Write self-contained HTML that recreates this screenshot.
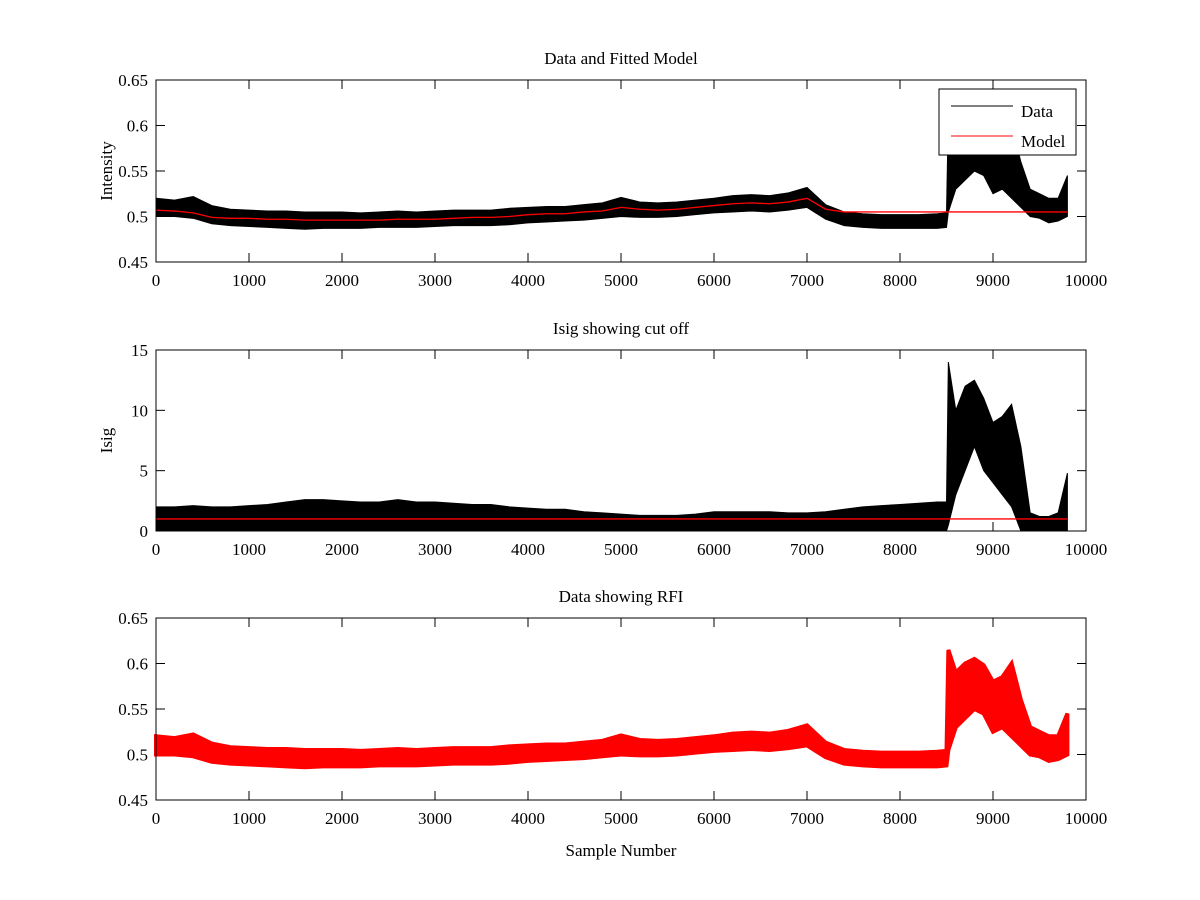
<!DOCTYPE html>
<html><head><meta charset="utf-8"><style>
body{margin:0;background:#fff}
svg{display:block}
text{font-family:"Liberation Serif",serif;font-size:17px;fill:#000}
</style></head><body>
<svg id="c" width="1200" height="900" xmlns="http://www.w3.org/2000/svg"></svg>
<script>
const xs   = [0,200,400,600,800,1000,1200,1400,1600,1800,2000,2200,2400,2600,2800,3000,3200,3400,3600,3800,4000,4200,4400,4600,4800,5000,5200,5400,5600,5800,6000,6200,6400,6600,6800,7000,7200,7400,7600,7800,8000,8200,8400,8500,8520,8600,8700,8800,8900,9000,9100,9200,9300,9400,9500,9600,9700,9800];
const hiI  = [0.520,0.518,0.522,0.512,0.508,0.507,0.506,0.506,0.505,0.505,0.505,0.504,0.505,0.506,0.505,0.506,0.507,0.507,0.507,0.509,0.510,0.511,0.511,0.513,0.515,0.521,0.516,0.515,0.516,0.518,0.520,0.523,0.524,0.523,0.526,0.532,0.513,0.505,0.503,0.502,0.502,0.502,0.503,0.504,0.615,0.590,0.600,0.605,0.598,0.580,0.585,0.600,0.560,0.530,0.525,0.520,0.520,0.545];
const loI  = [0.500,0.500,0.498,0.492,0.490,0.489,0.488,0.487,0.486,0.487,0.487,0.487,0.488,0.488,0.488,0.489,0.490,0.490,0.490,0.491,0.493,0.494,0.495,0.496,0.498,0.500,0.499,0.499,0.500,0.502,0.504,0.505,0.506,0.505,0.507,0.510,0.497,0.490,0.488,0.487,0.487,0.487,0.487,0.488,0.505,0.530,0.540,0.550,0.545,0.525,0.530,0.520,0.510,0.500,0.498,0.493,0.495,0.500];
const model = [0.507,0.506,0.504,0.499,0.498,0.498,0.497,0.497,0.496,0.496,0.496,0.496,0.496,0.497,0.497,0.497,0.498,0.499,0.499,0.500,0.502,0.503,0.503,0.505,0.506,0.510,0.508,0.507,0.508,0.510,0.512,0.514,0.515,0.514,0.516,0.520,0.508,0.505,0.505,0.505,0.505,0.505,0.505,0.505,0.505,0.505,0.505,0.505,0.505,0.505,0.505,0.505,0.505,0.505,0.505,0.505,0.505,0.505];
const hiS  = [2.0,2.0,2.1,2.0,2.0,2.1,2.2,2.4,2.6,2.6,2.5,2.4,2.4,2.6,2.4,2.4,2.3,2.2,2.2,2.0,1.9,1.8,1.8,1.6,1.5,1.4,1.3,1.3,1.3,1.4,1.6,1.6,1.6,1.6,1.5,1.5,1.6,1.8,2.0,2.1,2.2,2.3,2.4,2.4,14.0,10.0,12.0,12.5,11.0,9.0,9.5,10.5,7.0,1.5,1.2,1.2,1.5,4.8];
const loS  = [0,0,0,0,0,0,0,0,0,0,0,0,0,0,0,0,0,0,0,0,0,0,0,0,0,0,0,0,0,0,0,0,0,0,0,0,0,0,0,0,0,0,0,0,0.5,3,5,7,5,4,3,2,0,0,0,0,0,0];
const xTicks = [0,1000,2000,3000,4000,5000,6000,7000,8000,9000,10000];
const yTicksI = [0.45,0.5,0.55,0.6,0.65];
const yTicksS = [0,5,10,15];

const svg=document.getElementById('c');
const NS='http://www.w3.org/2000/svg';
function el(t,a,p){const e=document.createElementNS(NS,t);for(const k in a)e.setAttribute(k,a[k]);(p||svg).appendChild(e);return e;}
const X0=156,X1=1086;
function sx(v){return X0+(v/10000)*(X1-X0);}
function panel(name,top,bot,ymin,ymax,yt,title,ylabel,xlabel){
  const g=el('g',{});
  
  
  const sy=v=>bot-(v-ymin)/(ymax-ymin)*(bot-top);
  el('rect',{x:X0,y:top,width:X1-X0,height:bot-top,fill:'#fff',stroke:'none'},g);
  xTicks.forEach(t=>{const x=sx(t);
    el('line',{x1:x,x2:x,y1:bot,y2:bot-9,stroke:'#000'},g);
    el('line',{x1:x,x2:x,y1:top,y2:top+9,stroke:'#000'},g);
    const tx=el('text',{x:x,y:bot+24,'text-anchor':'middle'},g);tx.textContent=t;
    
    });
  yt.forEach(t=>{const y=sy(t);
    el('line',{x1:X0,x2:X0+9,y1:y,y2:y,stroke:'#000'},g);
    el('line',{x1:X1,x2:X1-9,y1:y,y2:y,stroke:'#000'},g);
    const tx=el('text',{x:X0-8,y:y+6,'text-anchor':'end'},g);tx.textContent=t;
    
    });
  const tt=el('text',{x:(X0+X1)/2,y:top-16,'text-anchor':'middle'},g);tt.textContent=title;
  
  
  if(ylabel){const yl=el('text',{x:0,y:0,'text-anchor':'middle',transform:`translate(${X0-44},${(top+bot)/2}) rotate(-90)`},g);yl.textContent=ylabel;
    
    }
  if(xlabel){const xl=el('text',{x:(X0+X1)/2,y:bot+56,'text-anchor':'middle'},g);xl.textContent=xlabel;
    
    }
  return {g,sy};
}
function band(g,sy,hi,lo,color,sw,name){
  let pts=xs.map((x,i)=>sx(x)+','+Math.max(sy(hi[i]),0)).concat(xs.map((x,i)=>sx(x)+','+sy(lo[i])).reverse());
  const p=el('polygon',{points:pts.join(' '),fill:color,stroke:color,'stroke-width':sw},g);
  
  
}
function line(g,sy,vals,color,name){
  const p=el('polyline',{points:xs.map((x,i)=>sx(x)+','+sy(vals[i])).join(' '),fill:'none',stroke:color,'stroke-width':1.3},g);
  
  
}
// panel 1
let P=panel('panel-data-model',80,262,0.45,0.65,yTicksI,'Data and Fitted Model','Intensity');
band(P.g,P.sy,hiI,loI,'#000',1,'data-series');
line(P.g,P.sy,model,'#f00','model-series');
el('rect',{x:X0,y:80,width:X1-X0,height:182,fill:'none',stroke:'#000'},P.g);
const lg=el('g',{},P.g);


el('rect',{x:939,y:89,width:137,height:66,fill:'#fff',stroke:'#000'},lg);
el('line',{x1:951,x2:1013,y1:106,y2:106,stroke:'#000'},lg);
el('line',{x1:951,x2:1013,y1:136,y2:136,stroke:'#f00'},lg);
let t=el('text',{x:1021,y:117},lg);t.textContent='Data';
t=el('text',{x:1021,y:147},lg);t.textContent='Model';
// panel 2
P=panel('panel-isig',350,531,0,15,yTicksS,'Isig showing cut off','Isig');
band(P.g,P.sy,hiS,loS,'#000',1,'isig-series');
const cut=xs.map(()=>1);
line(P.g,P.sy,cut,'#f00','cutoff-line');
el('rect',{x:X0,y:350,width:X1-X0,height:181,fill:'none',stroke:'#000'},P.g);
// panel 3
P=panel('panel-rfi',618,800,0.45,0.65,yTicksI,'Data showing RFI','', 'Sample Number');
band(P.g,P.sy,hiI,loI,'#f00',4,'rfi-series');
el('rect',{x:X0,y:618,width:X1-X0,height:182,fill:'none',stroke:'#000'},P.g);
</script>
</body></html>
